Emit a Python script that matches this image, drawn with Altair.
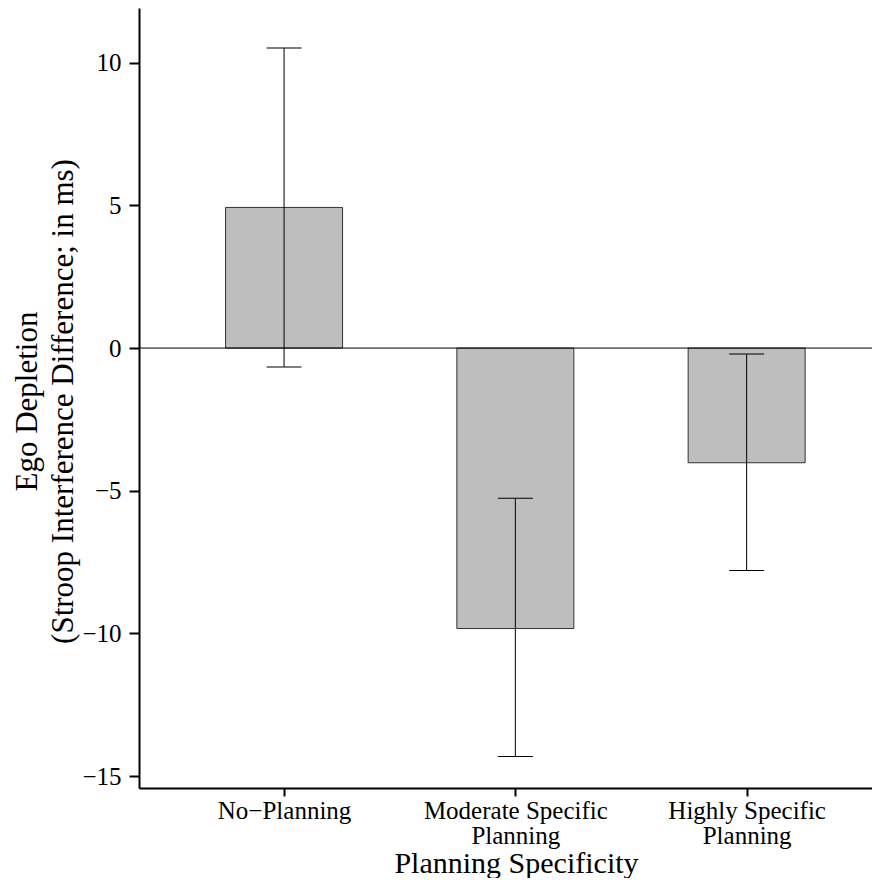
import json
import altair as alt
import pandas as pd

# ---- data ----
categories = ["No−Planning", "Moderate Specific Planning", "Highly Specific Planning"]
label_lines = [["No−Planning"], ["Moderate Specific", "Planning"], ["Highly Specific", "Planning"]]
positions = [1, 2, 3]
means = [4.93, -9.83, -4.02]
upper = [10.52, -5.26, -0.21]
lower = [-0.66, -14.32, -7.80]
zero_line = [0]
y_ticks = [-15, -10, -5, 0, 5, 10]

df = pd.DataFrame({"category": categories, "pos": positions, "mean": means,
                   "upper": upper, "lower": lower})
zdf = pd.DataFrame({"zero": zero_line})

FONT = "Liberation Serif"
X_DOMAIN = [0.3945, 3.5203]
Y_DOMAIN = [-15.42, 11.92]
W, H = 733, 780

label_expr = json.dumps(label_lines, ensure_ascii=False) + "[datum.value - 1]"

x_axis = alt.Axis(values=positions, labelExpr=label_expr, title="Planning Specificity",
                  tickSize=8, labelPadding=2, labelFontSize=25, labelLineHeight=25,
                  labelLimit=400, labelFlush=False, labelOverlap=False, labelAlign="center",
                  titleFontSize=30, titleX=377, titleY=84, titleBaseline="alphabetic",
                  titleAlign="center", titleAnchor="middle", titleLimit=800)
y_axis = alt.Axis(values=y_ticks, format="d",
                  title=["Ego Depletion", "(Stroop Interference Difference; in ms)"],
                  tickSize=10, labelPadding=8, labelFontSize=25, labelOverlap=False,
                  titleFontSize=31, titleAngle=270, titleX=-103, titleY=393,
                  titleBaseline="alphabetic", titleAlign="center", titleLineHeight=36,
                  titleLimit=900)

x_scale = alt.Scale(domain=X_DOMAIN, nice=False, zero=False)
y_scale = alt.Scale(domain=Y_DOMAIN, nice=False, zero=False)

base = alt.Chart(df)

bars = base.mark_bar(orient="vertical", size=117, fill="#BEBEBE", stroke="#333333",
                     strokeWidth=1).encode(
    x=alt.X("pos:Q", scale=x_scale, axis=x_axis),
    y=alt.Y("mean:Q", scale=y_scale, axis=y_axis),
    y2=alt.datum(0),
)

zero = alt.Chart(zdf).mark_rule(color="black", strokeWidth=1).encode(
    y=alt.Y("zero:Q", scale=y_scale, axis=y_axis),
)

err = base.mark_rule(color="black", strokeWidth=1).encode(
    x=alt.X("pos:Q", scale=x_scale, axis=x_axis),
    y=alt.Y("lower:Q", scale=y_scale, axis=y_axis),
    y2="upper:Q",
)

cap_hi = base.mark_tick(orient="horizontal", size=35, thickness=1, color="black",
                        opacity=1).encode(
    x=alt.X("pos:Q", scale=x_scale, axis=x_axis),
    y=alt.Y("upper:Q", scale=y_scale, axis=y_axis),
)
cap_lo = base.mark_tick(orient="horizontal", size=35, thickness=1, color="black",
                        opacity=1).encode(
    x=alt.X("pos:Q", scale=x_scale, axis=x_axis),
    y=alt.Y("lower:Q", scale=y_scale, axis=y_axis),
)

chart = alt.layer(bars, zero, err, cap_hi, cap_lo).properties(
    width=W, height=H,
    autosize=alt.AutoSizeParams(type="none"),
    padding={"left": 131, "top": 0, "right": 0, "bottom": 90},
).configure_view(stroke=None).configure_axis(
    grid=False, labelFont=FONT, titleFont=FONT, labelColor="black", titleColor="black",
    domainColor="black", tickColor="black", domainWidth=2, tickWidth=2,
    titleFontWeight="normal",
)

chart.save("out.html", embed_options={"renderer": "svg", "actions": False})
